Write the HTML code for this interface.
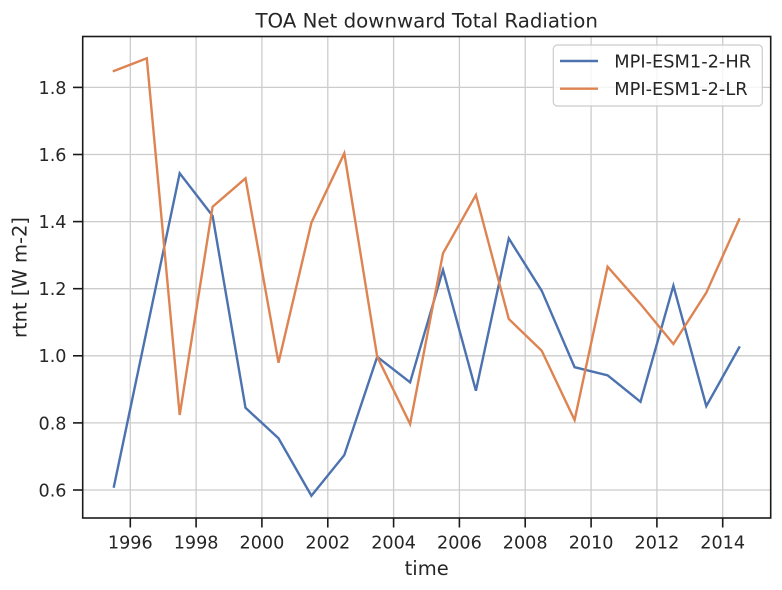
<!DOCTYPE html>
<html>
<head>
<meta charset="utf-8">
<style>
  html, body { margin: 0; padding: 0; background: #ffffff; }
  svg { display: block; }
  text { font-family: "DejaVu Sans", "Liberation Sans", sans-serif; fill: #262626; }
</style>
</head>
<body>
<svg width="782" height="590" viewBox="0 0 782 590" xmlns="http://www.w3.org/2000/svg">
  <rect x="0" y="0" width="782" height="590" fill="#ffffff"/>

  <!-- grid -->
  <g stroke="#cccccc" stroke-width="1.3">
    <line x1="130.3" y1="36.5" x2="130.3" y2="518"/>
    <line x1="196.1" y1="36.5" x2="196.1" y2="518"/>
    <line x1="261.9" y1="36.5" x2="261.9" y2="518"/>
    <line x1="327.8" y1="36.5" x2="327.8" y2="518"/>
    <line x1="393.6" y1="36.5" x2="393.6" y2="518"/>
    <line x1="459.4" y1="36.5" x2="459.4" y2="518"/>
    <line x1="525.2" y1="36.5" x2="525.2" y2="518"/>
    <line x1="591.1" y1="36.5" x2="591.1" y2="518"/>
    <line x1="656.9" y1="36.5" x2="656.9" y2="518"/>
    <line x1="722.7" y1="36.5" x2="722.7" y2="518"/>
    <line x1="82.7" y1="490" x2="770.7" y2="490"/>
    <line x1="82.7" y1="422.9" x2="770.7" y2="422.9"/>
    <line x1="82.7" y1="355.8" x2="770.7" y2="355.8"/>
    <line x1="82.7" y1="288.7" x2="770.7" y2="288.7"/>
    <line x1="82.7" y1="221.6" x2="770.7" y2="221.6"/>
    <line x1="82.7" y1="154.5" x2="770.7" y2="154.5"/>
    <line x1="82.7" y1="87.4" x2="770.7" y2="87.4"/>
  </g>

  <!-- series -->
  <polyline fill="none" stroke="#4c72b0" stroke-width="2.4" stroke-linejoin="miter" stroke-linecap="square"
    points="113.9,486.6 146.8,330.0 179.7,173.3 212.6,215.9 245.5,407.8 278.5,438.3 311.4,495.7 344.3,455.1 377.2,356.8 410.1,382.3 443.0,269.9 475.9,390.7 508.8,238.4 541.7,290.7 574.6,367.2 607.6,375.3 640.5,401.8 673.4,285.7 706.3,406.1 739.2,347.4"/>
  <polyline fill="none" stroke="#dd8452" stroke-width="2.4" stroke-linejoin="miter" stroke-linecap="square"
    points="113.9,71 146.8,58.3 179.7,415 212.6,206.7 245.5,178.3 278.5,362.7 311.4,222.7 344.3,153.3 377.2,356.7 410.1,424 443.0,253.3 475.9,195 508.8,319 541.7,350.7 574.6,420 607.6,266.7 640.5,304 673.4,344 706.3,292.7 739.2,219.3"/>

  <!-- spines -->
  <rect x="82.7" y="36.5" width="688" height="481.5" fill="none" stroke="#1a1a1a" stroke-width="1.6"/>

  <!-- ticks -->
  <g stroke="#1a1a1a" stroke-width="1.6">
    <line x1="130.3" y1="518" x2="130.3" y2="527.5"/>
    <line x1="196.1" y1="518" x2="196.1" y2="527.5"/>
    <line x1="261.9" y1="518" x2="261.9" y2="527.5"/>
    <line x1="327.8" y1="518" x2="327.8" y2="527.5"/>
    <line x1="393.6" y1="518" x2="393.6" y2="527.5"/>
    <line x1="459.4" y1="518" x2="459.4" y2="527.5"/>
    <line x1="525.2" y1="518" x2="525.2" y2="527.5"/>
    <line x1="591.1" y1="518" x2="591.1" y2="527.5"/>
    <line x1="656.9" y1="518" x2="656.9" y2="527.5"/>
    <line x1="722.7" y1="518" x2="722.7" y2="527.5"/>
    <line x1="73" y1="490" x2="82.7" y2="490"/>
    <line x1="73" y1="422.9" x2="82.7" y2="422.9"/>
    <line x1="73" y1="355.8" x2="82.7" y2="355.8"/>
    <line x1="73" y1="288.7" x2="82.7" y2="288.7"/>
    <line x1="73" y1="221.6" x2="82.7" y2="221.6"/>
    <line x1="73" y1="154.5" x2="82.7" y2="154.5"/>
    <line x1="73" y1="87.4" x2="82.7" y2="87.4"/>
  </g>

  <!-- x tick labels -->
  <g font-size="17.6" text-anchor="middle">
    <text x="130.3" y="548.3">1996</text>
    <text x="196.1" y="548.3">1998</text>
    <text x="261.9" y="548.3">2000</text>
    <text x="327.8" y="548.3">2002</text>
    <text x="393.6" y="548.3">2004</text>
    <text x="459.4" y="548.3">2006</text>
    <text x="525.2" y="548.3">2008</text>
    <text x="591.1" y="548.3">2010</text>
    <text x="656.9" y="548.3">2012</text>
    <text x="722.7" y="548.3">2014</text>
  </g>

  <!-- y tick labels -->
  <g font-size="17.6" text-anchor="end">
    <text x="66.5" y="496.4">0.6</text>
    <text x="66.5" y="429.3">0.8</text>
    <text x="66.5" y="362.2">1.0</text>
    <text x="66.5" y="295.1">1.2</text>
    <text x="66.5" y="228.0">1.4</text>
    <text x="66.5" y="160.9">1.6</text>
    <text x="66.5" y="93.8">1.8</text>
  </g>

  <!-- title & axis labels -->
  <text x="426.7" y="27.3" font-size="19.8" text-anchor="middle">TOA Net downward Total Radiation</text>
  <text x="426.7" y="575" font-size="19.5" text-anchor="middle">time</text>
  <text x="0" y="0" font-size="19.5" text-anchor="middle" transform="translate(26.7,277.5) rotate(-90)">rtnt [W m-2]</text>

  <!-- legend -->
  <rect x="553.3" y="45" width="209" height="61" rx="4" ry="4" fill="#ffffff" fill-opacity="0.8" stroke="#cccccc" stroke-width="1.2"/>
  <line x1="560" y1="61" x2="598" y2="61" stroke="#4c72b0" stroke-width="2.4"/>
  <line x1="560" y1="88.7" x2="598" y2="88.7" stroke="#dd8452" stroke-width="2.4"/>
  <g font-size="17.8">
    <text x="614.3" y="67.5">MPI-ESM1-2-HR</text>
    <text x="614.3" y="95.2">MPI-ESM1-2-LR</text>
  </g>
</svg>
</body>
</html>
